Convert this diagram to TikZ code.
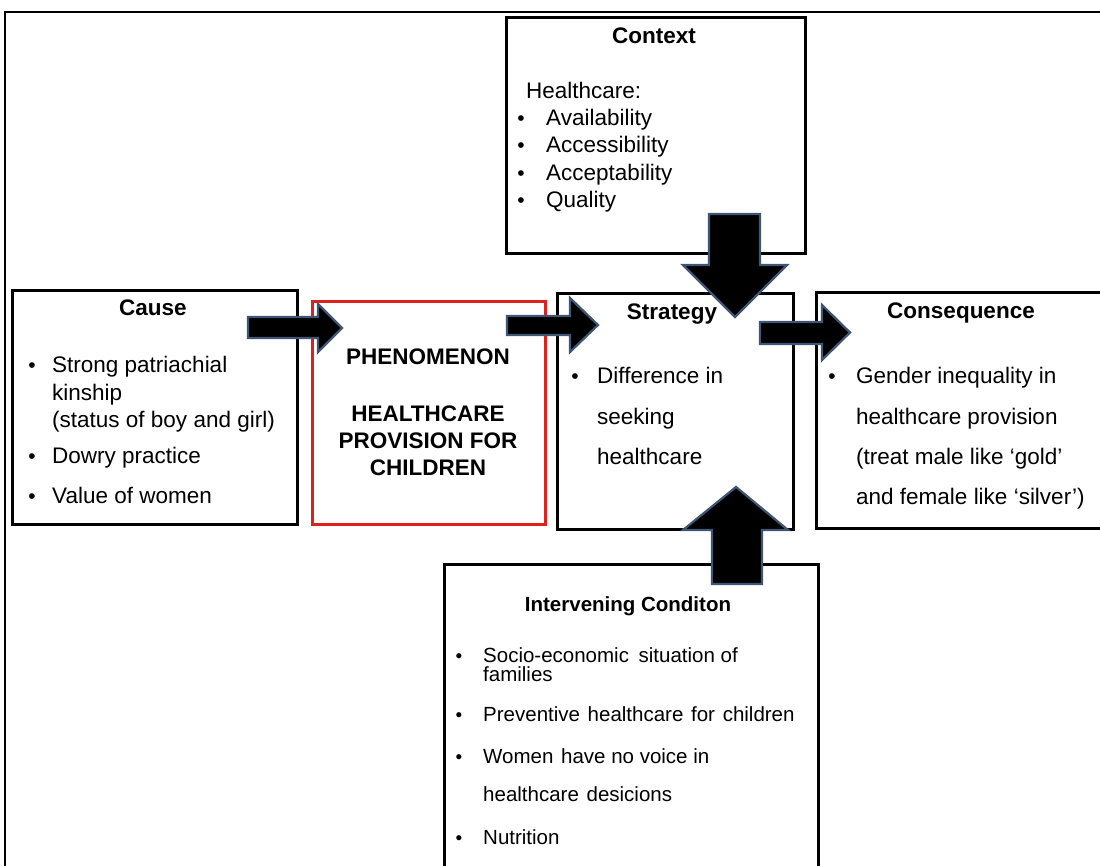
\documentclass[tikz,border=0pt]{standalone}
\usepackage{fontspec}
\setmainfont{Liberation Sans}
\definecolor{arrowedge}{HTML}{3F5573}
\definecolor{phenred}{HTML}{E0201B}
\begin{document}
\begin{tikzpicture}[x=1pt,y=-1pt,
  box/.style={draw=black,line width=3pt,inner sep=0pt,anchor=north west},
  redbox/.style={draw=phenred,line width=3.2pt,inner sep=0pt,anchor=north west},
  txt/.style={font=\fontsize{22.5}{27}\selectfont,anchor=base west,inner sep=0pt},
  ttl/.style={font=\fontsize{22.5}{27}\selectfont\bfseries,anchor=base,inner sep=0pt},
  btxt/.style={font=\fontsize{22.5}{27}\selectfont\bfseries,anchor=base,inner sep=0pt},
  stxt/.style={font=\fontsize{20.5}{24}\selectfont,anchor=base west,inner sep=0pt},
  sttl/.style={font=\fontsize{20.5}{24}\selectfont\bfseries,anchor=base,inner sep=0pt},
  bul/.style={font=\fontsize{21}{24}\selectfont,anchor=base,inner sep=0pt},
  sbul/.style={font=\fontsize{19}{22}\selectfont,anchor=base,inner sep=0pt},
  blockarrow/.style={fill=black,draw=arrowedge,line width=2.2pt,line join=miter}]
\clip (0,0) rectangle (1100,866);
\fill[white] (0,0) rectangle (1100,866);
% outer frame
\draw[line width=2.2pt] (1110,12) -- (5,12) -- (5,880);

% boxes
\node[box,minimum width=299pt,minimum height=236pt] (context) at (505,16) {};
\node[box,minimum width=285pt,minimum height=234pt] (cause) at (11,289) {};
\node[redbox,minimum width=233pt,minimum height=223pt] (phen) at (311,300) {};
\node[box,minimum width=236pt,minimum height=236pt] (strategy) at (556,292) {};
\node[box,minimum width=295pt,minimum height=236pt] (conseq) at (815,291) {};
\node[box,minimum width=374pt,minimum height=340pt] (interv) at (443,563) {};

% Context
\node[ttl] (ctxt) at (654,44) {Context};
\node[txt] (hc) at (526,99) {Healthcare:};
\node[bul] (cb1) at (521,126) {•};
\node[txt] (c1) at (546,126) {Availability};
\node[bul] (cb2) at (521,153) {•};
\node[txt] (c2) at (546,153) {Accessibility};
\node[bul] (cb3) at (521,181) {•};
\node[txt] (c3) at (546,181) {Acceptability};
\node[bul] (cb4) at (521,208) {•};
\node[txt] (c4) at (546,208) {Quality};

% Cause
\node[ttl] (causet) at (153,316) {Cause};
\node[bul] (kb1) at (32,373) {•};
\node[txt] (k1) at (52,373) {Strong patriachial};
\node[txt] (k2) at (52,400) {kinship};
\node[txt] (k3) at (52,427) {(status of boy and girl)};
\node[bul] (kb2) at (32,463) {•};
\node[txt] (k4) at (52,463) {Dowry practice};
\node[bul] (kb3) at (32,503) {•};
\node[txt] (k5) at (52,503) {Value of women};

% Phenomenon
\node[btxt] (p1) at (428,365) {PHENOMENON};
\node[btxt] (p2) at (428,421) {HEALTHCARE};
\node[btxt] (p3) at (428,448) {PROVISION FOR};
\node[btxt] (p4) at (428,475) {CHILDREN};

% Strategy
\node[ttl] (stratt) at (672,320) {Strategy};
\node[bul] (sb1) at (575,384) {•};
\node[txt] (s1) at (597,384) {Difference in};
\node[txt] (s2) at (597,424) {seeking};
\node[txt] (s3) at (597,464) {healthcare};

% Consequence
\node[ttl] (conseqt) at (961,319) {Consequence};
\node[bul] (qb1) at (832,384) {•};
\node[txt] (q1) at (856,384) {Gender inequality in};
\node[txt] (q2) at (856,424) {healthcare provision};
\node[txt] (q3) at (856,464) {(treat male like ‘gold’};
\node[txt] (q4) at (856,504) {and female like ‘silver’)};

% Intervening condition
\node[sttl] (intt) at (628,611) {Intervening Conditon};
\node[sbul] (ib1) at (459,662) {•};
\node[stxt] (i1) at (483,662) {Socio-economic\hspace{4pt} situation of};
\node[stxt] (i2) at (483,681) {families};
\node[sbul] (ib2) at (459,721) {•};
\node[stxt] (i3) at (483,721) {Preventive\hspace{2pt} healthcare\hspace{2pt} for\hspace{2pt} children};
\node[sbul] (ib3) at (459,763) {•};
\node[stxt] (i4) at (483,763) {Women\hspace{2pt} have no voice in};
\node[stxt] (i5) at (483,801) {healthcare\hspace{2pt} desicions};
\node[sbul] (ib4) at (459,844) {•};
\node[stxt] (i6) at (483,844) {Nutrition};

% block arrows
\draw[blockarrow] (248,317) -- (318,317) -- (318,304) -- (342,328) -- (318,352) -- (318,338) -- (248,338) -- cycle;
\draw[blockarrow] (507,316) -- (570,316) -- (570,298) -- (598,325) -- (570,352) -- (570,335) -- (507,335) -- cycle;
\draw[blockarrow] (760,322) -- (822,322) -- (822,305) -- (850,332.5) -- (822,360) -- (822,344) -- (760,344) -- cycle;
\draw[blockarrow] (709,214) -- (760,214) -- (760,265) -- (787,265) -- (735,317) -- (683,265) -- (709,265) -- cycle;
\draw[blockarrow] (712,584) -- (762,584) -- (762,530) -- (788,530) -- (736,487) -- (683,530) -- (712,530) -- cycle;
\end{tikzpicture}
\end{document}
